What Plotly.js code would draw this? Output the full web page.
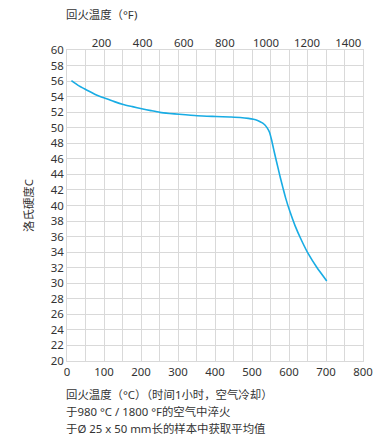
<!DOCTYPE html>
<html><head><meta charset="utf-8">
<script src="https://cdn.plot.ly/plotly-3.0.1.min.js"></script>
<style>html,body{margin:0;padding:0;background:#fff;}#c{width:390px;height:444px;}</style>
</head><body><div id="c"></div>
<script>
const tempC = [12, 30, 53, 78, 103, 128, 152, 177, 202, 227, 251, 277, 303, 352, 402, 440, 468, 490, 504, 515, 522, 529, 535, 541, 547, 553, 558, 563, 570, 577, 584, 591, 603, 616, 634, 652, 675, 702];
const hrc = [56.05, 55.45, 54.86, 54.25, 53.79, 53.36, 53.0, 52.72, 52.45, 52.2, 51.98, 51.84, 51.73, 51.55, 51.45, 51.38, 51.32, 51.21, 51.09, 50.93, 50.78, 50.6, 50.35, 49.98, 49.45, 48.42, 47.35, 46.3, 44.9, 43.5, 42.2, 40.95, 39.15, 37.45, 35.5, 33.8, 32.05, 30.3];
const fTicks = [200, 400, 600, 800, 1000, 1200, 1400];
const yTitle = '洛氏硬度C';
const topTitle = '回火温度（°F)';
const notes = ['回火温度（°C）（时间1小时，空气冷却）', '于980 °C / 1800 °F的空气中淬火', '于Ø 25 x 50 mm长的样本中获取平均值'];

const font = "'Noto Sans', 'Noto Sans CJK SC', sans-serif";
const txt = '#333';
const grid = '#d9d9d9';
const fs = 11.4;

const cToF = c => c * 1.8 + 32;

Plotly.newPlot('c', [
  {x: tempC, y: hrc, type: 'scatter', mode: 'lines', line: {color: '#18ace4', width: 1.6, shape: 'spline', smoothing: 0.6}, hoverinfo: 'none'},
  {x: [cToF(0), cToF(800)], y: [20, 20], xaxis: 'x2', type: 'scatter', mode: 'none', hoverinfo: 'none', showlegend: false}
], {
  width: 390, height: 444,
  margin: {l: 67, r: 27, t: 50, b: 83},
  showlegend: false,
  paper_bgcolor: '#fff', plot_bgcolor: '#fff',
  font: {family: font, size: fs, color: txt},
  xaxis: {range: [0, 800], dtick: 100, tick0: 0, showgrid: true, gridcolor: grid, gridwidth: 1,
    minor: {dtick: 50, showgrid: true, gridcolor: grid, gridwidth: 1},
    zeroline: false, showline: true, linecolor: grid, mirror: true, ticks: '', fixedrange: true,
    tickfont: {size: fs, color: txt}},
  xaxis2: {overlaying: 'x', side: 'top', range: [cToF(0), cToF(800)], tickvals: fTicks, ticktext: fTicks.map(String),
    showgrid: false, zeroline: false, ticks: '', showline: false, tickfont: {size: fs, color: txt}},
  yaxis: {range: [20, 60], dtick: 2, tick0: 20, showgrid: true, gridcolor: grid, gridwidth: 1, zeroline: false,
    showline: true, linecolor: grid, mirror: true, ticks: '', tickfont: {size: fs, color: txt},
    title: {text: yTitle, standoff: 14, font: {size: fs, color: txt}}},
  annotations: [
    {xref: 'paper', yref: 'paper', x: -0.01, y: 1, yshift: 36, xanchor: 'left', yanchor: 'middle', text: topTitle, showarrow: false, font: {size: fs, color: txt}},
    {xref: 'paper', yref: 'paper', x: -0.01, y: 0, yshift: -33, xanchor: 'left', yanchor: 'middle', text: notes[0], showarrow: false, font: {size: fs, color: txt}},
    {xref: 'paper', yref: 'paper', x: -0.01, y: 0, yshift: -50, xanchor: 'left', yanchor: 'middle', text: notes[1], showarrow: false, font: {size: fs, color: txt}},
    {xref: 'paper', yref: 'paper', x: -0.01, y: 0, yshift: -67, xanchor: 'left', yanchor: 'middle', text: notes[2], showarrow: false, font: {size: fs, color: txt}}
  ]
}, {displayModeBar: false, staticPlot: true});
</script></body></html>
